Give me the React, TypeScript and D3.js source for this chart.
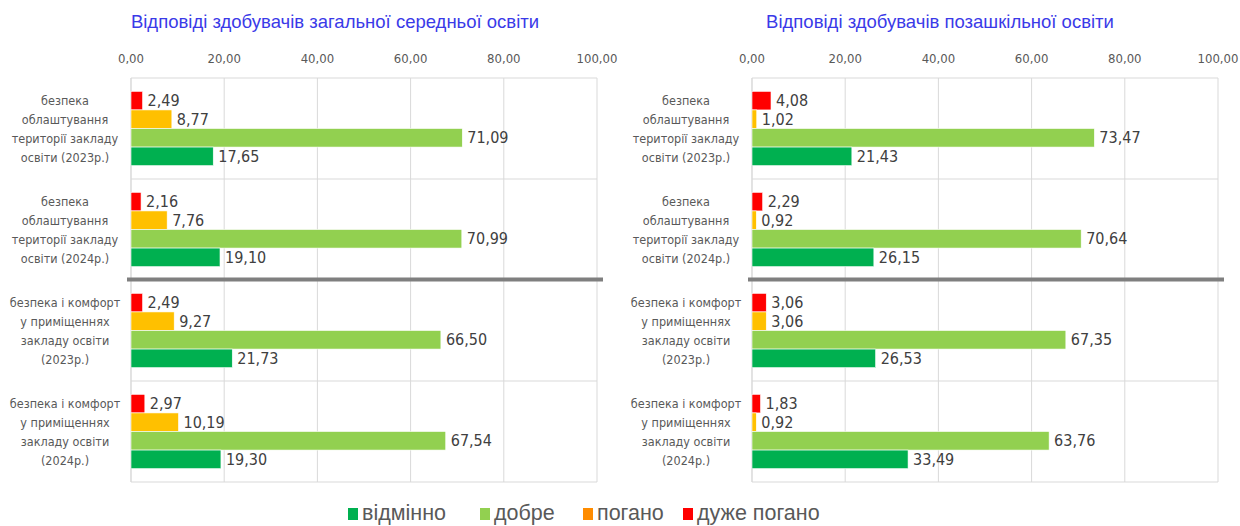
import React from "react";
import * as d3 from "d3";

const categories = [
  ["безпека", "облаштування", "території закладу", "освіти (2023р.)"],
  ["безпека", "облаштування", "території закладу", "освіти (2024р.)"],
  ["безпека і комфорт", "у приміщеннях", "закладу освіти", "(2023р.)"],
  ["безпека і комфорт", "у приміщеннях", "закладу освіти", "(2024р.)"],
];
const seriesNames = ["дуже погано", "погано", "добре", "відмінно"];
const barColors = ["#FF0000", "#FFC000", "#92D050", "#00B050"];
const legendNames = ["відмінно", "добре", "погано", "дуже погано"];
const legendColors = ["#00B050", "#92D050", "#FF8C00", "#FF0000"];

// values per category: [дуже погано, погано, добре, відмінно]
const generalValues = [
  [2.49, 8.77, 71.09, 17.65],
  [2.16, 7.76, 70.99, 19.1],
  [2.49, 9.27, 66.5, 21.73],
  [2.97, 10.19, 67.54, 19.3],
];
const outOfSchoolValues = [
  [4.08, 1.02, 73.47, 21.43],
  [2.29, 0.92, 70.64, 26.15],
  [3.06, 3.06, 67.35, 26.53],
  [1.83, 0.92, 63.76, 33.49],
];
const ticks = [0, 20, 40, 60, 80, 100];
const titles = ["Відповіді здобувачів загальної середньої освіти", "Відповіді здобувачів позашкільної освіти"];

const fmt = (v: number) => v.toFixed(2).replace(".", ",");
const labelFont = "'Liberation Sans Narrow', 'DejaVu Sans Condensed', Arial, sans-serif";

function Panel({ x0, values, title, titleX }: { x0: number; values: number[][]; title: string; titleX: number }) {
  const left = x0;
  const right = x0 + 466;
  const top = 78;
  const bottom = 482;
  const x = d3.scaleLinear().domain([0, 100]).range([left, right]);
  const band = d3.scaleBand<number>().domain(d3.range(categories.length)).range([top, bottom]).paddingInner(0).paddingOuter(0);
  const inner = d3.scaleBand<number>().domain(d3.range(seriesNames.length)).range([0, band.bandwidth()]).paddingOuter(0.72).paddingInner(0);
  const bw = band.bandwidth();
  return (
    <g>
      <text x={titleX} y={28} textAnchor="middle" fontFamily="'Liberation Sans', Arial, sans-serif" fontSize={18.5} fill="#3A3AE8">
        {title}
      </text>
      {ticks.map((t) => (
        <g key={t}>
          <line x1={x(t)} x2={x(t)} y1={top} y2={bottom} stroke="#D9D9D9" strokeWidth={1} />
          <text x={x(t)} y={63} textAnchor="middle" fontFamily={labelFont} fontSize={13} fill="#595959">
            {fmt(t)}
          </text>
        </g>
      ))}
      {d3.range(categories.length + 1).map((i) => {
        const y = i < categories.length ? (band(i) as number) : bottom;
        return <line key={i} x1={left} x2={right} y1={y} y2={y} stroke="#D9D9D9" strokeWidth={1} />;
      })}
      <line x1={left} x2={left} y1={top} y2={bottom} stroke="#D9D9D9" strokeWidth={1} />
      {categories.map((lines, ci) => {
        const by = band(ci) as number;
        return (
          <g key={ci}>
            {lines.map((ln, li) => (
              <text key={li} x={left - 66} y={by + bw / 2 + (li - 1.5) * 19 + 4.5} textAnchor="middle" fontFamily={labelFont} fontSize={12.5} fill="#595959">
                {ln}
              </text>
            ))}
            {values[ci].map((v, si) => {
              const y = by + (inner(si) as number);
              const h = inner.bandwidth();
              return (
                <g key={si}>
                  <rect x={x(0)} y={y} width={x(v) - x(0)} height={h} fill={barColors[si]} stroke="#ffffff" strokeWidth={0.6} />
                  <text x={x(v) + 5} y={y + h / 2 + 5.5} fontFamily={labelFont} fontSize={16} fill="#404040">
                    {fmt(v)}
                  </text>
                </g>
              );
            })}
          </g>
        );
      })}
      <line x1={left - 4} x2={right + 6} y1={(band(2) as number) - 0.5} y2={(band(2) as number) - 0.5} stroke="#7F7F7F" strokeWidth={4} />
    </g>
  );
}

export default function App() {
  const legendX = [348, 480, 583, 683];
  return (
    <svg width={1240} height={526} style={{ position: "absolute", left: 0, top: 0, background: "#fff" }}>
      <rect width={1240} height={526} fill="#fff" />
      <Panel x0={131} values={generalValues} title={titles[0]} titleX={335} />
      <Panel x0={752} values={outOfSchoolValues} title={titles[1]} titleX={940} />
      {legendNames.map((n, i) => (
        <g key={n}>
          <rect x={legendX[i]} y={508} width={10} height={12} fill={legendColors[i]} />
          <text x={legendX[i] + 14} y={520} fontFamily="'Liberation Sans', Arial, sans-serif" fontSize={21.5} fill="#595959">
            {n}
          </text>
        </g>
      ))}
    </svg>
  );
}
